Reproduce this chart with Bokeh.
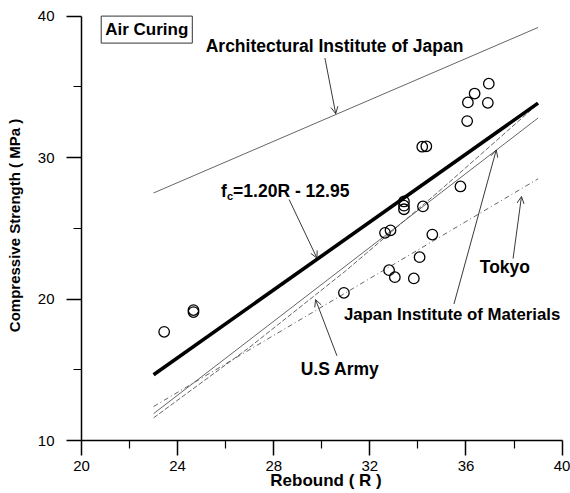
from bokeh.plotting import figure
from bokeh.models import Range1d, FixedTicker, Label, Arrow, OpenHead
from bokeh.embed import file_html
from bokeh.resources import INLINE

# ---- data ----
rebound = [23.44, 24.66, 24.66, 30.92, 32.63, 32.86, 32.80, 33.04, 33.42, 33.42, 33.42,
           33.83, 34.07, 34.18, 34.35, 34.21, 34.60, 35.77, 36.05, 36.08, 36.36, 36.91, 36.95]
strength = [17.68, 19.22, 19.08, 20.44, 24.68, 24.86, 22.04, 21.55, 26.90, 26.60, 26.35,
            21.46, 22.96, 30.77, 30.80, 26.55, 24.56, 27.96, 32.58, 33.90, 34.53, 33.87, 35.23]

fit_r = [23, 39]
fit_v = [14.65, 33.85]            # fc = 1.20R - 12.95
aij_r = [23, 39]
aij_v = [27.5, 39.2]              # Architectural Institute of Japan
jim_r = [23, 39]
jim_v = [11.9, 32.8]              # Japan Institute of Materials
tokyo_r = [23, 39]
tokyo_v = [12.4, 28.5]            # Tokyo
army_r = [23, 27, 31, 35, 39]
army_v = [11.6, 16.6, 22.0, 27.8, 33.8]   # U.S Army

x_ticks = [20, 24, 28, 32, 36, 40]
x_minor = [22, 26, 30, 34, 38]
y_ticks = [10, 20, 30, 40]
y_minor = [15, 25, 35]

# annotation arrows (tail -> tip)
arrow_tail_r = [30.13, 28.64, 30.63, 35.50, 37.96]
arrow_tail_v = [37.04, 27.04, 15.99, 19.65, 22.86]
arrow_tip_r = [30.58, 29.80, 29.74, 37.26, 38.31]
arrow_tip_v = [33.10, 22.89, 19.96, 30.54, 27.25]

FONT = "Liberation Sans"

p = figure(width=570, height=493, output_backend="svg", toolbar_location=None,
           x_range=Range1d(20, 40.35), y_range=Range1d(10, 40.4),
           min_border_left=81, min_border_right=0, min_border_top=10, min_border_bottom=53)
p.outline_line_color = None
p.grid.visible = False
p.background_fill_color = "white"
p.border_fill_color = "white"

p.xaxis.ticker = FixedTicker(ticks=x_ticks, minor_ticks=x_minor)
p.yaxis.ticker = FixedTicker(ticks=y_ticks, minor_ticks=y_minor)
p.xaxis.bounds = (20, 40)
p.yaxis.bounds = (10, 40)
for ax in (p.xaxis, p.yaxis):
    ax.axis_line_width = 1.5
    ax.axis_line_color = "black"
    ax.major_tick_out = 15
    ax.major_tick_in = 0
    ax.minor_tick_out = 8
    ax.minor_tick_in = 0
    ax.major_tick_line_width = 1.5
    ax.minor_tick_line_width = 1.2
    ax.major_tick_line_color = "black"
    ax.minor_tick_line_color = "black"
    ax.major_label_text_font = FONT
    ax.major_label_text_font_size = "15px"
    ax.major_label_text_color = "black"
    ax.axis_label_text_font = FONT
    ax.axis_label_text_font_style = "bold"
    ax.axis_label_text_color = "black"

p.xaxis.axis_label = "Rebound ( R )"
p.xaxis.axis_label_text_font_size = "17px"
p.xaxis.major_label_standoff = 5
p.xaxis.axis_label_standoff = -3
p.yaxis.axis_label = "Compressive Strength ( MPa )"
p.yaxis.axis_label_text_font_size = "15px"
p.yaxis.major_label_standoff = 12
p.yaxis.axis_label_standoff = 12

thin = "#555555"
p.line(aij_r, aij_v, line_color=thin, line_width=0.9)
p.line(tokyo_r, tokyo_v, line_color=thin, line_width=0.9, line_dash="5 3 1 3")
p.line(jim_r, jim_v, line_color=thin, line_width=0.9)
p.line(army_r, army_v, line_color=thin, line_width=0.9, line_dash="5 2")
p.line(fit_r, fit_v, line_color="black", line_width=3.6)

p.scatter(rebound, strength, marker="circle", size=10.5, fill_color=None,
          line_color="black", line_width=1.3)

for tr, tv, hr, hv in zip(arrow_tail_r, arrow_tail_v, arrow_tip_r, arrow_tip_v):
    p.add_layout(Arrow(x_start=tr, y_start=tv, x_end=hr, y_end=hv,
                       line_color="#222222", line_width=0.9,
                       end=OpenHead(size=7, line_width=0.9, line_color="#222222")))

def lab(x, y, text, size="17.5px", align="left", **kw):
    l = Label(x=x, y=y, text=text, text_font=FONT, text_font_style="bold",
              text_font_size=size, text_color="black", text_align=align,
              text_baseline="middle", **kw)
    p.add_layout(l)
    return l

lab(20.82, 39.05, "Air Curing", size="17px", border_line_color="#333333",
    border_line_width=1, background_fill_color="white", padding=4)
lab(30.53, 37.89, "Architectural Institute of Japan", align="center")
lab(25.81, 27.61, "f")
lab(25.81, 27.61, "c", size="11px", x_offset=6, y_offset=-5)
lab(25.81, 27.61, "=1.20R - 12.95", x_offset=12)
lab(30.76, 15.07, "U.S Army", align="center")
lab(30.92, 18.94, "Japan Institute of Materials", size="16.8px")
lab(37.62, 22.25, "Tokyo", align="center")

open("out.html", "w").write(file_html(p, INLINE))
